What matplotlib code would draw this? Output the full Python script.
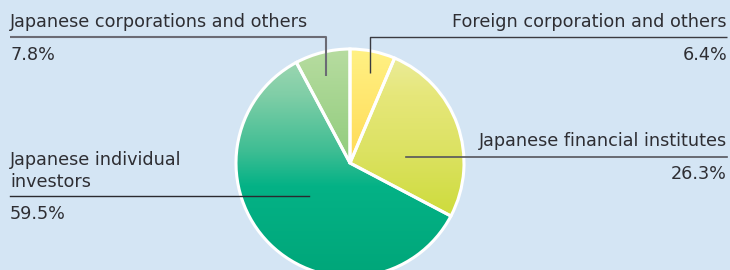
import numpy as np
import matplotlib
matplotlib.use('Agg')
import matplotlib.pyplot as plt
from matplotlib.colors import to_rgb

categories = ["Foreign corporation and others", "Japanese financial institutes",
              "Japanese individual\ninvestors", "Japanese corporations and others"]
shares = [6.4, 26.3, 59.5, 7.8]
pct_labels = ["6.4%", "26.3%", "59.5%", "7.8%"]

W, H = 730, 270
BG = '#d4e5f4'
TXT = '#2e2e33'
FONT = 'DejaVu Sans'
FS = 12.7

fig = plt.figure(figsize=(7.3, 2.7), dpi=100)
fig.patch.set_facecolor(BG)
ax = fig.add_axes([0, 0, 1, 1])
ax.set_facecolor(BG)

cx, cy, r = 350, H - 163, 114
wedges, _ = ax.pie(shares, startangle=90, counterclock=False, center=(cx, cy), radius=r,
                   wedgeprops=dict(edgecolor='white', linewidth=2.2))
ax.set_aspect('auto')
ax.set_xlim(0, W)
ax.set_ylim(0, H)
ax.axis('off')

grads = [
    [(0.0, '#fff184'), (0.5, '#ffda55')],
    [(0.0, '#ececa0'), (0.2, '#e6e77a'), (0.45, '#dce262'), (0.7, '#cfdc40'), (1.0, '#cfdc40')],
    [(0.0, '#a6d9b4'), (0.2, '#80cea7'), (0.45, '#3dbd93'), (0.6, '#04b286'), (1.0, '#00a679')],
    [(0.0, '#b7dca0'), (0.5, '#90cc7c')],
]

def make_img(stops, n=300):
    t = np.linspace(0, 1, n)
    pos = [s[0] for s in stops]
    cols = np.array([to_rgb(s[1]) for s in stops])
    img = np.zeros((n, 1, 3))
    for c in range(3):
        img[:, 0, c] = np.interp(t, pos, cols[:, c])
    return img

for w, st in zip(wedges, grads):
    im = ax.imshow(make_img(st), extent=(cx - r, cx + r, cy - r, cy + r), origin='upper',
                   aspect='auto', interpolation='bilinear', zorder=1)
    im.set_clip_path(w)
    w.set_facecolor('none')
    w.set_zorder(2)

ax.set_xlim(0, W)
ax.set_ylim(0, H)

def Y(y):
    return H - y

# leader lines
ax.plot([10, 326, 326], [Y(37), Y(37), Y(76)], color='#6b6b74', lw=1.5, zorder=3, solid_capstyle='butt')
ax.plot([727, 370, 370], [Y(37), Y(37), Y(73)], color='#3a3a40', lw=1.0, zorder=3, solid_capstyle='butt')
ax.plot([406, 727], [Y(157), Y(157)], color='#55555c', lw=1.2, zorder=3)
ax.plot([10, 309], [Y(196), Y(196)], color='#2a2a30', lw=1.0, zorder=3)

kw = dict(fontsize=FS, color=TXT, family=FONT, zorder=4)
ax.text(727, Y(22), categories[0], ha='right', va='center', **kw)
ax.text(727, Y(55), pct_labels[0], ha='right', va='center', **kw)
ax.text(727, Y(141), categories[1], ha='right', va='center', **kw)
ax.text(727, Y(174), pct_labels[1], ha='right', va='center', **kw)
ax.text(10, Y(171), categories[2], ha='left', va='center', linespacing=1.3, **kw)
ax.text(10, Y(214), pct_labels[2], ha='left', va='center', **kw)
ax.text(10, Y(22), categories[3], ha='left', va='center', **kw)
ax.text(10, Y(55), pct_labels[3], ha='left', va='center', **kw)

fig.savefig('out.png', dpi=100, facecolor=BG)
